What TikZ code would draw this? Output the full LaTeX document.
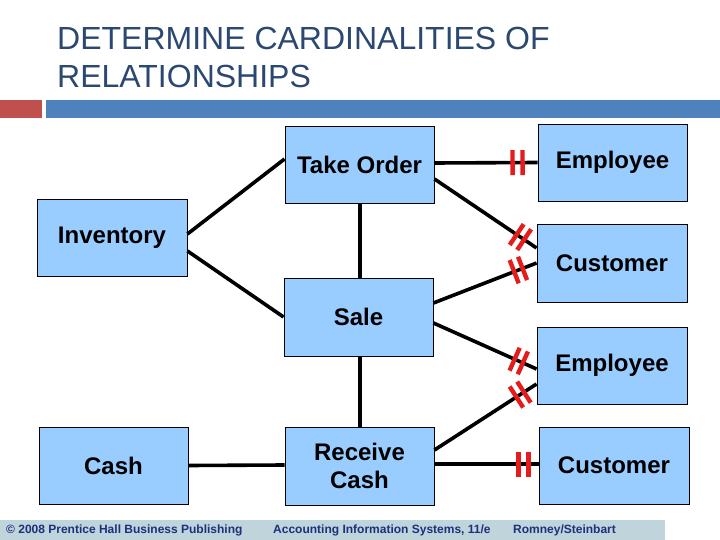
\documentclass[tikz,border=0pt]{standalone}
\usepackage{fontspec}
\setmainfont{Liberation Sans}
\usetikzlibrary{calc,decorations.markings}
\definecolor{titleblue}{RGB}{42,72,112}
\definecolor{barred}{RGB}{192,80,77}
\definecolor{barblue}{RGB}{79,129,189}
\definecolor{boxfill}{RGB}{153,204,255}
\definecolor{cardred}{RGB}{228,28,28}
\definecolor{footfill}{RGB}{192,212,220}
\definecolor{foottext}{RGB}{28,48,125}
\tikzset{
  ent/.style={draw=black, line width=0.9pt, fill=boxfill, minimum width=149pt, minimum height=77pt,
              inner sep=0pt, font=\fontsize{24}{28}\selectfont\bfseries, align=center},
  conn/.style={line width=3.6pt, black},
  twobars/.style 2 args={postaction={decorate}, decoration={markings,
      mark=at position #1 with {\fill[cardred] (-2.2pt,-12.5pt) rectangle (2.2pt,12.5pt);},
      mark=at position #2 with {\fill[cardred] (-2.2pt,-12.5pt) rectangle (2.2pt,12.5pt);}}},
  ttl/.style={anchor=base west, inner sep=0pt, text=titleblue, font=\fontsize{32}{36}\selectfont},
  foot/.style={anchor=west, inner sep=0pt, text=foottext, font=\fontsize{12}{14}\selectfont\bfseries}
}
\begin{document}
\begin{tikzpicture}[x=1pt,y=-1pt]
\useasboundingbox (0,0) rectangle (720,540);
% title
\node[ttl] (t1) at (57,50) {DETERMINE CARDINALITIES OF};
\node[ttl] (t2) at (57,88) {RELATIONSHIPS};
% header bars
\fill[barred] (0,100) rectangle (42,118);
\fill[barblue] (46,100) rectangle (720,118);
% entities
\node[ent] (takeorder) at (359.5,164.5) {Take Order};
\node[ent, minimum width=150pt] (inventory) at (112,237.5) {Inventory};
\node[ent, minimum height=78pt] (sale) at (358.5,317) {Sale};
\node[ent] (emp1) at (612.5,162.5) {Employee};
\node[ent, minimum width=150pt, minimum height=78pt] (cust1) at (612,263) {Customer};
\node[ent, minimum width=150pt] (emp2) at (612,365.5) {Employee};
\node[ent, minimum width=150pt] (cust2) at (614,465.5) {Customer};
\node[ent] (cash) at (113.5,465.5) {Cash};
\node[ent, minimum height=78pt] (recv) at (359.5,466) {Receive\\Cash};
% connectors
\draw[conn] ($(inventory.east)+(0,-3.5)$) -- ($(takeorder.west)+(0,-5.5)$);
\draw[conn] ($(inventory.east)+(0,13.5)$) -- (sale.west);
\draw[conn] ($(takeorder.south)+(0.5,0)$) -- ($(sale.north)+(1.5,0)$);
\draw[conn] ($(sale.south)+(1.5,0)$) -- ($(recv.north)+(0.5,0)$);
\draw[conn] (cash.east) -- ($(recv.west)+(0,-1)$);
\draw[conn, twobars={-25pt}{-15pt}] ($(takeorder.east)+(0,-1.5)$) -- (emp1.west);
\draw[conn, twobars={-24pt}{-15pt}] ($(takeorder.east)+(0,14.5)$) -- ($(cust1.west)+(0,-15)$);
\draw[conn, twobars={-24pt}{-15pt}] ($(sale.east)+(0,-14)$) -- (cust1.west);
\draw[conn, twobars={-24pt}{-15pt}] ($(sale.east)+(0,6)$) -- ($(emp2.west)+(0,3.5)$);
\draw[conn, twobars={-24pt}{-15pt}] ($(recv.east)+(0,-16)$) -- ($(emp2.west)+(0,18.5)$);
\draw[conn, twobars={-20pt}{-10pt}] ($(recv.east)+(0,-2)$) -- ($(cust2.west)+(0,-1.5)$);
% footer
\fill[footfill] (0,520) rectangle (665,540);
\node[foot] (f1) at (6,530) {© 2008 Prentice Hall Business Publishing};
\node[foot] (f2) at (273,530) {Accounting Information Systems, 11/e};
\node[foot] (f3) at (513,530) {Romney/Steinbart};
\end{tikzpicture}
\end{document}
